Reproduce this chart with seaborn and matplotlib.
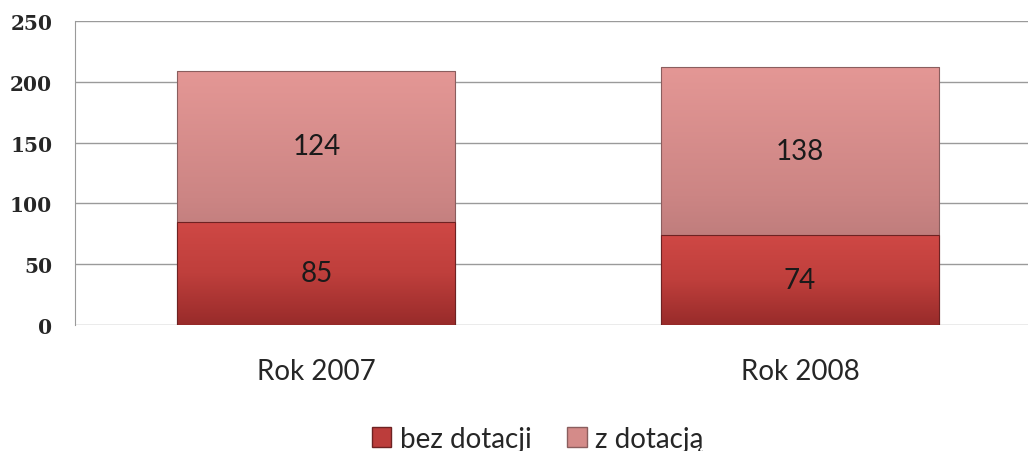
import numpy as np
import pandas as pd
import matplotlib
matplotlib.use('Agg')
import matplotlib.pyplot as plt
from matplotlib.patches import Patch, Rectangle
from matplotlib.colors import LinearSegmentedColormap
import seaborn as sns

years = ['Rok 2007', 'Rok 2008']
bez_dotacji = [85, 74]
z_dotacja = [124, 138]
series_names = ['bez dotacji', 'z dotacją']

sns.set_style('white')
plt.rcParams['font.family'] = ['Lato', 'DejaVu Sans']

df = pd.DataFrame({'rok': years, 'bez': bez_dotacji, 'z': z_dotacja})
df['total'] = df['bez'] + df['z']

col_bez = '#BC3D3B'
col_z = '#D48B89'
# vertical shading, bottom -> top
cmap_bez = LinearSegmentedColormap.from_list('bez', ['#982B2A', '#BF3F3C', '#CF4845'])
cmap_z = LinearSegmentedColormap.from_list('z', ['#A46C6C', '#CC8584', '#E49795'])

fig = plt.figure(figsize=(10.28, 4.52), dpi=100)
ax = fig.add_axes([0.0725, 0.279, 0.941, 0.672])

sns.barplot(data=df, x='rok', y='total', color=col_z, width=0.575, ax=ax,
            linewidth=0, saturation=1, zorder=3)
n = len(ax.patches)
sns.barplot(data=df, x='rok', y='bez', color=col_bez, width=0.575, ax=ax,
            linewidth=0, saturation=1, zorder=4)

grad = np.linspace(0, 1, 256).reshape(-1, 1)
for k, p in enumerate(list(ax.patches)):
    x0, y0 = p.get_x(), p.get_y()
    w, h = p.get_width(), p.get_height()
    if k < n:
        cm, z, ec = cmap_z, 3.5, '#8A5E5E'
    else:
        cm, z, ec = cmap_bez, 4.5, '#6E2222'
    im = ax.imshow(grad, cmap=cm, aspect='auto', origin='lower',
                   extent=(x0, x0 + w, y0, y0 + h), zorder=z)
    im.set_clip_path(p)
    ax.add_patch(Rectangle((x0, y0), w, h, fill=False, edgecolor=ec,
                           linewidth=0.8, zorder=z + 0.2))
ax.set_xlim(-0.5, 1.5)

for i, (b, z) in enumerate(zip(bez_dotacji, z_dotacja)):
    ax.text(i, b / 2, str(b), ha='center', va='center', fontsize=20, color='#1a1a1a', zorder=6)
    ax.text(i, b + z / 2, str(z), ha='center', va='center', fontsize=20, color='#1a1a1a', zorder=6)

ax.set_ylim(0, 250)
ax.set_yticks(range(0, 251, 50))
ax.yaxis.grid(True, color='#9a9a9a', linewidth=1, zorder=0)
ax.set_axisbelow(True)
for s in ['top', 'right', 'bottom']:
    ax.spines[s].set_visible(False)
ax.spines['left'].set_color('#9a9a9a')
ax.tick_params(axis='y', length=0, pad=16)
ax.tick_params(axis='x', length=0, pad=24)
for lab in ax.get_yticklabels():
    lab.set_fontfamily(['DejaVu Serif'])
    lab.set_fontweight('bold')
    lab.set_fontsize(14.5)
for lab in ax.get_xticklabels():
    lab.set_fontsize(20)
ax.set_xlabel('')
ax.set_ylabel('')

handles = [Patch(facecolor=col_bez, edgecolor='#6E2222'), Patch(facecolor=col_z, edgecolor='#8A5E5E')]
fig.legend(handles, series_names, loc='center', bbox_to_anchor=(0.523, 0.027), ncol=2,
           frameon=False, fontsize=20, handlelength=0.7, handleheight=0.7,
           handletextpad=0.3, columnspacing=1.3)

fig.savefig('out.png', dpi=100)
